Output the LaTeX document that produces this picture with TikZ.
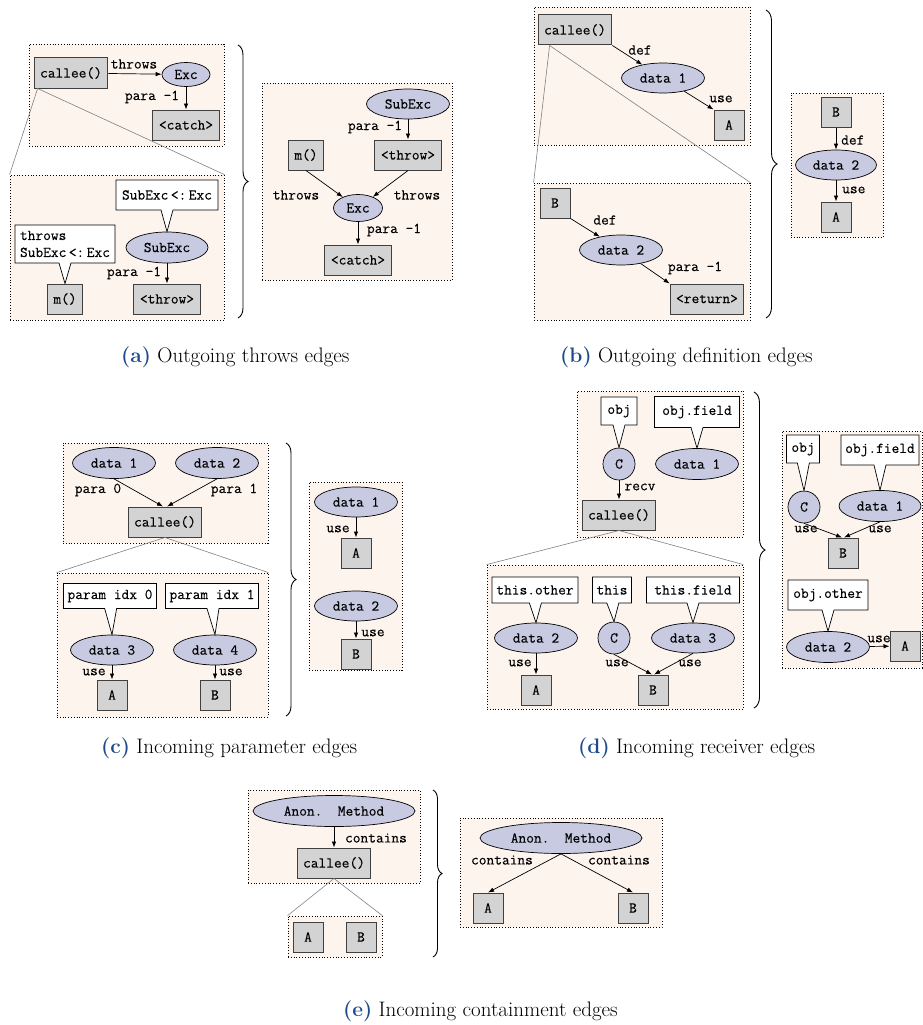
\documentclass[tikz,border=0pt]{standalone}
\usepackage{fontspec}
\newfontfamily\codefont{Latin Modern Mono}[FakeBold=0.25]
\usetikzlibrary{shapes.geometric,shapes.callouts,arrows.meta,decorations.pathreplacing}
\definecolor{bgc}{RGB}{253,244,238}
\definecolor{ellc}{RGB}{200,202,226}
\definecolor{rectc}{RGB}{211,211,211}
\definecolor{capblue}{RGB}{30,75,140}
\begin{document}
\begin{tikzpicture}[x=1pt,y=-1pt,
  font=\fontsize{15}{17}\selectfont\codefont,
  bgbox/.style={draw=black, dotted, line width=0.8pt, fill=bgc, inner sep=0pt},
  rbox/.style={draw=black!75, line width=1pt, fill=rectc, inner xsep=6pt, inner ysep=0pt, minimum height=30pt, minimum width=30pt},
  ebox/.style={ellipse, draw=black, line width=0.7pt, fill=ellc, inner sep=0pt, minimum width=83pt, minimum height=30pt},
  cbox/.style={circle, draw=black, line width=0.7pt, fill=ellc, inner sep=0pt, minimum size=32pt},
  tag/.style={rectangle callout, draw=black, line width=0.7pt, fill=white, inner xsep=3pt, inner ysep=0pt, minimum height=28pt, callout pointer width=12pt},
  lbl/.style={inner sep=0pt},
  lblw/.style={inner sep=0pt, anchor=west},
  arr/.style={draw=black, line width=0.7pt, -{Latex[length=6pt,width=4.5pt]}},
  zln/.style={draw=black!50, line width=0.6pt},
  brc/.style={draw=black, line width=0.9pt, decorate, decoration={brace, amplitude=#1}},
  captxt/.style={font=\fontsize{21}{24}\selectfont\rmfamily, inner sep=0pt, anchor=base west}
]
\useasboundingbox (0,0) rectangle (923,1025);

% ================= (a) =================
\node[bgbox, minimum width=195pt, minimum height=102pt] (a1) at (126.5,95) {};
\node[bgbox, minimum width=214pt, minimum height=145pt] (a2) at (117,247.5) {};
\node[bgbox, minimum width=190pt, minimum height=197pt] (a3) at (357,181.5) {};
\node[rbox] (aCallee) at (71,73) {callee()};
\node[ebox, minimum width=48pt, minimum height=24pt] (aExc) at (186,74.5) {Exc};
\node[rbox] (aCatch) at (186,125) {<catch>};
\node[lbl] (aL1) at (134,64) {throws};
\node[lbl] (aL2) at (152,97) {para -1};
\draw[arr] (aCallee) -- (aExc);
\draw[arr] (aExc) -- (aCatch);
\node[ebox, minimum width=82pt, minimum height=31pt] (aSub) at (167,247.5) {SubExc};
\node[rbox] (aThrow) at (167,299) {<throw>};
\node[rbox] (aM) at (65,299) {m()};
\node[tag, minimum width=102pt, minimum height=30pt, callout absolute pointer={(aSub.north)}] (aT1) at (167,195) {SubExc\,<:\,Exc};
\node[tag, minimum width=100pt, minimum height=38pt, align=left, callout absolute pointer={(aM.north)}] (aT2) at (65,244) {throws\\SubExc\,<:\,Exc};
\node[lbl] (aL3) at (134,273) {para -1};
\draw[arr] (aSub) -- (aThrow);
\coordinate (aZ) at ([xshift=4pt]aCallee.south west);
\draw[zln] (aZ) -- (a2.north west);
\draw[zln] (aZ) -- (a2.north east);
% right
\node[ebox] (aRSub) at (408,104) {SubExc};
\node[rbox] (aRThrow) at (408,155) {<throw>};
\node[rbox] (aRM) at (306,155) {m()};
\node[ebox, minimum width=49pt, minimum height=27pt] (aRExc) at (358,208) {Exc};
\node[rbox] (aRCatch) at (358,260) {<catch>};
\node[lbl] (aRL1) at (375,127) {para -1};
\node[lbl] (aRL2) at (296,195) {throws};
\node[lbl] (aRL3) at (417,195) {throws};
\node[lbl] (aRL4) at (394,230) {para -1};
\draw[arr] (aRSub) -- (aRThrow);
\draw[arr] (aRM.south) -- (aRExc);
\draw[arr] (aRThrow.south) -- (aRExc);
\draw[arr] (aRExc) -- (aRCatch);
\coordinate (aB1) at (238,45);
\coordinate (aB2) at (238,318);
\draw[brc=10pt] (aB1) -- (aB2);
\node[captxt] (capA) at (121,362) {\textcolor{capblue}{\textbf{(a)}} Outgoing throws edges};

% ================= (b) =================
\node[bgbox, minimum width=216pt, minimum height=138pt] (b1) at (642,76) {};
\node[bgbox, minimum width=216pt, minimum height=137pt] (b2) at (642,251.5) {};
\node[bgbox, minimum width=92pt, minimum height=144pt] (b3) at (837,165) {};
\node[rbox] (bCallee) at (575,30) {callee()};
\node[ebox] (bD1) at (663,78) {data 1};
\node[rbox] (bA) at (729,125) {A};
\node[lbl] (bL1) at (640,50) {def};
\node[lbl] (bL2) at (721,99) {use};
\draw[arr] (bCallee.south east) -- (bD1);
\draw[arr] (bD1) -- (bA.north west);
\node[rbox] (bB) at (555,203) {B};
\node[ebox] (bD2) at (621,250) {data 2};
\node[rbox] (bRet) at (707,299) {<return>};
\node[lbl] (bL3) at (605,220) {def};
\node[lbl] (bL4) at (695,268) {para -1};
\draw[arr] (bB.south east) -- (bD2);
\draw[arr] (bD2) -- (bRet.north west);
\coordinate (bZ) at ([xshift=12pt]bCallee.south west);
\draw[zln] (bZ) -- (b2.north west);
\draw[zln] (bZ) -- (b2.north east);
% right
\node[rbox] (bRB) at (836,112) {B};
\node[ebox, minimum width=81pt] (bRD) at (836,165) {data 2};
\node[rbox] (bRA) at (836,217) {A};
\node[lblw] (bRL1) at (841,140) {def};
\node[lblw] (bRL2) at (842,190) {use};
\draw[arr] (bRB) -- (bRD);
\draw[arr] (bRD) -- (bRA);
\coordinate (bB1) at (766,10);
\coordinate (bB2) at (766,318);
\draw[brc=11pt] (bB1) -- (bB2);
\node[captxt] (capB) at (560,362) {\textcolor{capblue}{\textbf{(b)}} Outgoing definition edges};

% ================= (c) =================
\node[bgbox, minimum width=205pt, minimum height=100pt] (c1) at (165.5,493) {};
\node[bgbox, minimum width=211pt, minimum height=144pt] (c2) at (162.5,645) {};
\node[bgbox, minimum width=93pt, minimum height=188pt] (c3) at (355.5,576) {};
\node[ebox, minimum height=31pt] (cD1) at (114,463) {data 1};
\node[ebox, minimum height=31pt] (cD2) at (217,463) {data 2};
\node[rbox] (cCallee) at (165,522) {callee()};
\node[lbl] (cL1) at (98,490) {para 0};
\node[lbl] (cL2) at (234,490) {para 1};
\draw[arr] (cD1.south) -- ([xshift=-2pt]cCallee.north);
\draw[arr] (cD2.south) -- ([xshift=2pt]cCallee.north);
\node[ebox] (cD3) at (112,650) {data 3};
\node[ebox] (cD4) at (215,650) {data 4};
\node[rbox] (cA) at (112,695) {A};
\node[rbox] (cB) at (215,695) {B};
\node[tag, minimum width=93pt, minimum height=25pt, callout absolute pointer={(cD3.north)}] (cT0) at (110,596) {param idx 0};
\node[tag, minimum width=93pt, minimum height=25pt, callout absolute pointer={(cD4.north)}] (cT1) at (212,596) {param idx 1};
\node[lbl] (cL3) at (94,672) {use};
\node[lbl] (cL4) at (231,672) {use};
\draw[arr] (cD3) -- (cA);
\draw[arr] (cD4) -- (cB);
\draw[zln] (cCallee.south) -- (c2.north west);
\draw[zln] (cCallee.south) -- (c2.north east);
% right
\node[ebox] (cRD1) at (356,502) {data 1};
\node[rbox] (cRA) at (356,553) {A};
\node[ebox] (cRD2) at (356,606) {data 2};
\node[rbox] (cRB) at (356,654) {B};
\node[lbl] (cRL1) at (338,529) {use};
\node[lbl] (cRL2) at (373,633) {use};
\draw[arr] (cRD1) -- (cRA);
\draw[arr] (cRD2) -- (cRB);
\coordinate (cB1) at (286,443);
\coordinate (cB2) at (286,716);
\draw[brc=10pt] (cB1) -- (cB2);
\node[captxt] (capC) at (101,753) {\textcolor{capblue}{\textbf{(c)}} Incoming parameter edges};

% ================= (d) =================
\node[bgbox, minimum width=166pt, minimum height=146pt] (d1) at (660,464) {};
\node[bgbox, minimum width=256pt, minimum height=144pt] (d2) at (615,637) {};
\node[bgbox, minimum width=140pt, minimum height=237pt] (d3) at (852,549.5) {};
\node[cbox] (dC1) at (619,464) {C};
\node[ebox, minimum height=31pt] (dD1) at (697,464) {data 1};
\node[rbox] (dCallee) at (619,515) {callee()};
\node[tag, minimum width=36pt, callout absolute pointer={(dC1.north)}] (dTo) at (619,411) {obj};
\node[tag, minimum width=85pt, minimum height=31pt, callout absolute pointer={(dD1.north)}] (dTf) at (697,412) {obj.field};
\node[lbl] (dL1) at (640,487) {recv};
\draw[arr] (dC1) -- (dCallee);
\node[ebox] (dD2) at (536,638) {data 2};
\node[rbox] (dA) at (536,690) {A};
\node[cbox] (dC2) at (614,638) {C};
\node[ebox] (dD3) at (693,638) {data 3};
\node[rbox] (dB) at (653,690) {B};
\node[tag, minimum width=86pt, minimum height=26pt, callout absolute pointer={(dD2.north)}] (dTo2) at (535,590) {this.other};
\node[tag, minimum width=39pt, minimum height=26pt, callout absolute pointer={(dC2.north)}] (dTt) at (612,590) {this};
\node[tag, minimum width=93pt, minimum height=26pt, callout absolute pointer={(dD3.north)}] (dTf2) at (693,590) {this.field};
\node[lbl] (dL2) at (520,663) {use};
\node[lbl] (dL3) at (617,663) {use};
\node[lbl] (dL4) at (690,663) {use};
\draw[arr] (dD2) -- (dA);
\draw[arr] (dC2.south) -- ([xshift=-1pt]dB.north);
\draw[arr] (dD3.south) -- ([xshift=1pt]dB.north);
\draw[zln] (dCallee.south) -- (d2.north west);
\draw[zln] (dCallee.south) -- (d2.north east);
% right
\node[cbox] (dRC) at (804,507) {C};
\node[ebox, minimum width=82pt, minimum height=31pt] (dRD1) at (880,506) {data 1};
\node[rbox] (dRB) at (843,553) {B};
\node[tag, minimum width=33pt, callout absolute pointer={(dRC.north)}] (dRTo) at (803,449) {obj};
\node[tag, minimum width=78pt, minimum height=30pt, callout absolute pointer={(dRD1.north)}] (dRTf) at (880,450) {obj.field};
\node[ebox, minimum height=31pt] (dRD2) at (828,647) {data 2};
\node[rbox] (dRA) at (905,646) {A};
\node[tag, minimum width=80pt, minimum height=30pt, callout absolute pointer={(dRD2.north)}] (dRTo2) at (828,595) {obj.other};
\node[lbl] (dRL1) at (806,529) {use};
\node[lbl] (dRL2) at (880,529) {use};
\node[lbl] (dRL3) at (879,639) {use};
\draw[arr] (dRC.south) -- ([xshift=-1pt]dRB.north);
\draw[arr] (dRD1.south) -- ([xshift=1pt]dRB.north);
\draw[arr] (dRD2) -- (dRA);
\coordinate (dB1) at (754,392);
\coordinate (dB2) at (754,708);
\draw[brc=11pt] (dB1) -- (dB2);
\node[captxt] (capD) at (578,753) {\textcolor{capblue}{\textbf{(d)}} Incoming receiver edges};

% ================= (e) =================
\node[bgbox, minimum width=172pt, minimum height=93pt] (e1) at (334,836.5) {};
\node[bgbox, minimum width=94pt, minimum height=41pt] (e2) at (335,936.5) {};
\node[bgbox, minimum width=202pt, minimum height=109pt] (e3) at (561,872.5) {};
\node[ebox, minimum width=162pt, minimum height=31pt] (eAnon) at (334,811) {Anon.\ \ Method};
\node[rbox] (eCallee) at (334,863) {callee()};
\node[lbl] (eL1) at (376,838) {contains};
\draw[arr] (eAnon) -- (eCallee);
\node[rbox] (eA) at (308,937) {A};
\node[rbox] (eB) at (361,937) {B};
\draw[zln] (eCallee.south) -- (e2.north west);
\draw[zln] (eCallee.south) -- (e2.north east);
% right
\node[ebox, minimum width=162pt, minimum height=31pt] (eRAnon) at (561,838) {Anon.\ \ Method};
\node[rbox] (eRA) at (488,908) {A};
\node[rbox] (eRB) at (633,908) {B};
\node[lbl] (eRL1) at (502,860) {contains};
\node[lbl] (eRL2) at (619,860) {contains};
\draw[arr] (eRAnon.south) -- (eRA.north);
\draw[arr] (eRAnon.south) -- (eRB.north);
\coordinate (eB1) at (433,790);
\coordinate (eB2) at (433,957);
\draw[brc=9pt] (eB1) -- (eB2);
\node[captxt] (capE) at (343,1016) {\textcolor{capblue}{\textbf{(e)}} Incoming containment edges};
\end{tikzpicture}
\end{document}
